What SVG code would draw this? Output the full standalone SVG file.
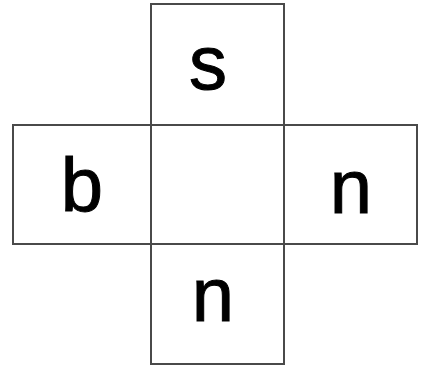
<svg xmlns="http://www.w3.org/2000/svg" width="421" height="369" viewBox="0 0 421 369">
<style>
.cell{fill:#ffffff;stroke:#4a4a4a;stroke-width:2}
.lbl{font-family:"Liberation Sans","DejaVu Sans",sans-serif;font-size:76px;fill:#000;stroke:#000;stroke-width:1;text-anchor:middle}
</style>
<rect width="421" height="369" fill="#ffffff"/>
<g id="cell-center"><rect class="cell" x="151" y="125" width="133" height="119"/></g>
<g id="cell-top"><rect class="cell" x="151" y="4" width="133" height="121"/><text class="lbl" x="208" y="89">s</text></g>
<g id="cell-left"><rect class="cell" x="13" y="125" width="138" height="119"/><text class="lbl" x="82" y="211">b</text></g>
<g id="cell-right"><rect class="cell" x="284" y="125" width="133" height="119"/><text class="lbl" x="351" y="213">n</text></g>
<g id="cell-bottom"><rect class="cell" x="151" y="244" width="133" height="120"/><text class="lbl" x="213" y="321">n</text></g>
<g id="connectors"></g>
</svg>
